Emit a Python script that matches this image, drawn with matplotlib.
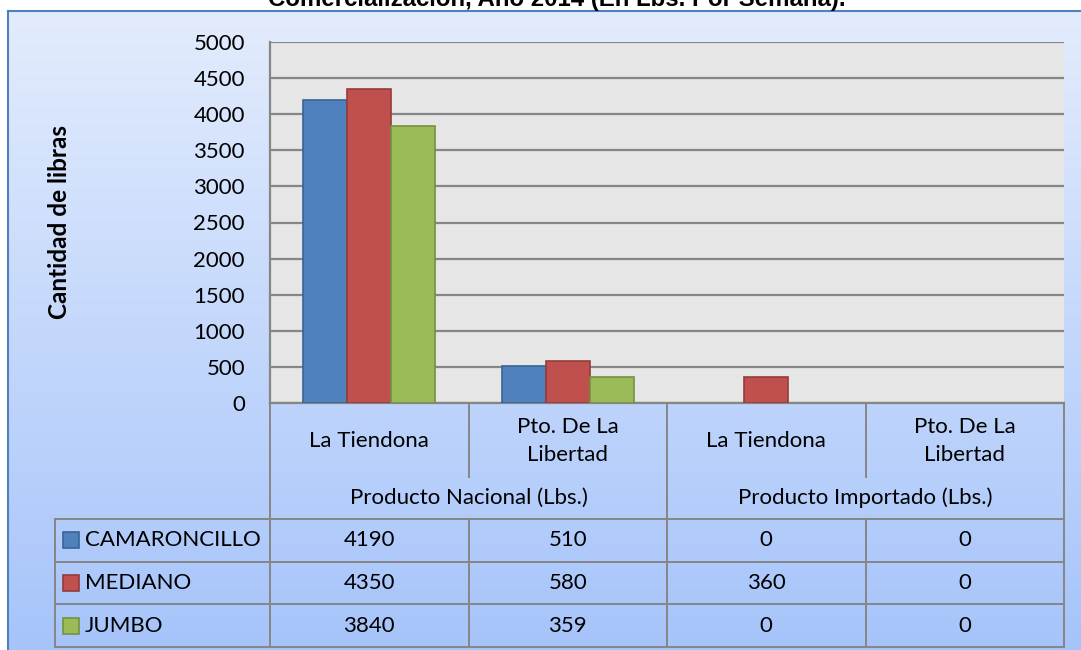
import numpy as np
from matplotlib import pyplot as plt
from matplotlib.patches import Rectangle
from matplotlib.transforms import blended_transform_factory

# data
categories = ['La Tiendona', 'Pto. De La\nLibertad', 'La Tiendona', 'Pto. De La\nLibertad']
groups = ['Producto Nacional (Lbs.)', 'Producto Importado (Lbs.)']
series = ['CAMARONCILLO', 'MEDIANO', 'JUMBO']
camaroncillo = [4190, 510, 0, 0]
mediano = [4350, 580, 360, 0]
jumbo = [3840, 359, 0, 0]
yticks = list(range(0, 5001, 500))

title = 'Comercialización, Año 2014 (En Lbs. Por Semana).'
ylabel = 'Cantidad de libras'

colors = ['#4f81bd', '#c0504d', '#9bbb59']
edges = ['#3a6494', '#943c3a', '#76913f']
grid_c = '#868686'
font = ['Lato', 'DejaVu Sans']
fs = 16

W, H = 1081, 650
fig = plt.figure(figsize=(W / 100, H / 100), dpi=100)
fig.patch.set_facecolor('white')

# chart area background with gradient
bg = fig.add_axes([0, 0, 1, 1], zorder=0)
grad = np.linspace(0, 1, 256)[:, None, None]
top = np.array([227, 236, 253]) / 255
bot = np.array([166, 196, 250]) / 255
bg.imshow(top + (bot - top) * grad, extent=(8, W + 2, H + 2, 11),
          aspect='auto', interpolation='bilinear')
bg.plot([8, W + 2], [11, 11], color='#4f81bd', lw=1.5)
bg.plot([8, 8], [11, H + 2], color='#4f81bd', lw=1.5)
bg.set_xlim(0, W)
bg.set_ylim(H, 0)
bg.axis('off')

# plot area
L, R, T, B = 270, 1064, 42, 403
ax = fig.add_axes([L / W, 1 - B / H, (R - L) / W, (B - T) / H], zorder=1)
ax.set_facecolor('#e6e6e6')

x = np.arange(len(categories))
w = 1 / 4.5
for k, vals in enumerate([camaroncillo, mediano, jumbo]):
    # zero values draw no bar, as in the original
    h = np.where(np.array(vals) > 0, vals, np.nan)
    ax.bar(x + (k - 1) * w, h, w, color=colors[k], edgecolor=edges[k],
           lw=1.2, zorder=3)

ax.set_xlim(-0.5, len(categories) - 0.5)
ax.set_ylim(0, 5000)
ax.set_yticks(yticks)
ax.set_xticks([])
ax.set_axisbelow(True)
ax.yaxis.grid(True, color=grid_c, lw=1.6)
ax.tick_params(axis='y', length=0, pad=18)
for lab in ax.get_yticklabels():
    lab.set_family(font)
    lab.set_fontsize(fs)
for s in ['top', 'right']:
    ax.spines[s].set_visible(False)
for s in ['left', 'bottom']:
    ax.spines[s].set_color(grid_c)
    ax.spines[s].set_linewidth(1.6)

# title (cut at top edge, as in the original) and y label
fig.text(557 / W, 1 - 6 / H, title, ha='center', va='baseline',
         family=['Liberation Sans', 'DejaVu Sans'], weight='bold', fontsize=17.3)
fig.text(60 / W, 1 - 222 / H, ylabel, rotation=90, ha='center', va='center',
         family=font, weight='bold', fontsize=17.5)

# data table under the plot
tr = blended_transform_factory(ax.transData, bg.transData)
cw = (R - L) / len(categories)
leg_left = -0.5 - (L - 55) / cw
rows = [519, 561.5, 604, 647]
lk = dict(color=grid_c, lw=1.4, transform=tr, clip_on=False)

for xe in [-0.5, 1.5, 3.5]:
    bg.plot([xe, xe], [B, rows[-1]], **lk)
for xe in [0.5, 2.5]:
    bg.plot([xe, xe], [B, 477], **lk)
    bg.plot([xe, xe], [rows[0], rows[-1]], **lk)
bg.plot([leg_left, leg_left], [rows[0], rows[-1]], **lk)
for yr in rows:
    bg.plot([leg_left, 3.5], [yr, yr], **lk)

for i, c in enumerate(categories):
    bg.text(i, 441, c, ha='center', va='center', transform=tr,
            family=font, fontsize=fs, linespacing=1.5)
for j, g in enumerate(groups):
    bg.text(2 * j + 0.5, 498, g, ha='center', va='center', transform=tr,
            family=font, fontsize=fs)

for k, (name, vals) in enumerate(zip(series, [camaroncillo, mediano, jumbo])):
    yc = (rows[k] + rows[k + 1]) / 2
    bg.add_patch(Rectangle((63, yc - 8), 16, 16, facecolor=colors[k],
                           edgecolor=edges[k], lw=1.2))
    bg.text(85, yc, name, ha='left', va='center', family=font, fontsize=fs)
    for i, v in enumerate(vals):
        bg.text(i, yc, str(v), ha='center', va='center', transform=tr,
                family=font, fontsize=fs)

plt.savefig('out.png', dpi=100)
